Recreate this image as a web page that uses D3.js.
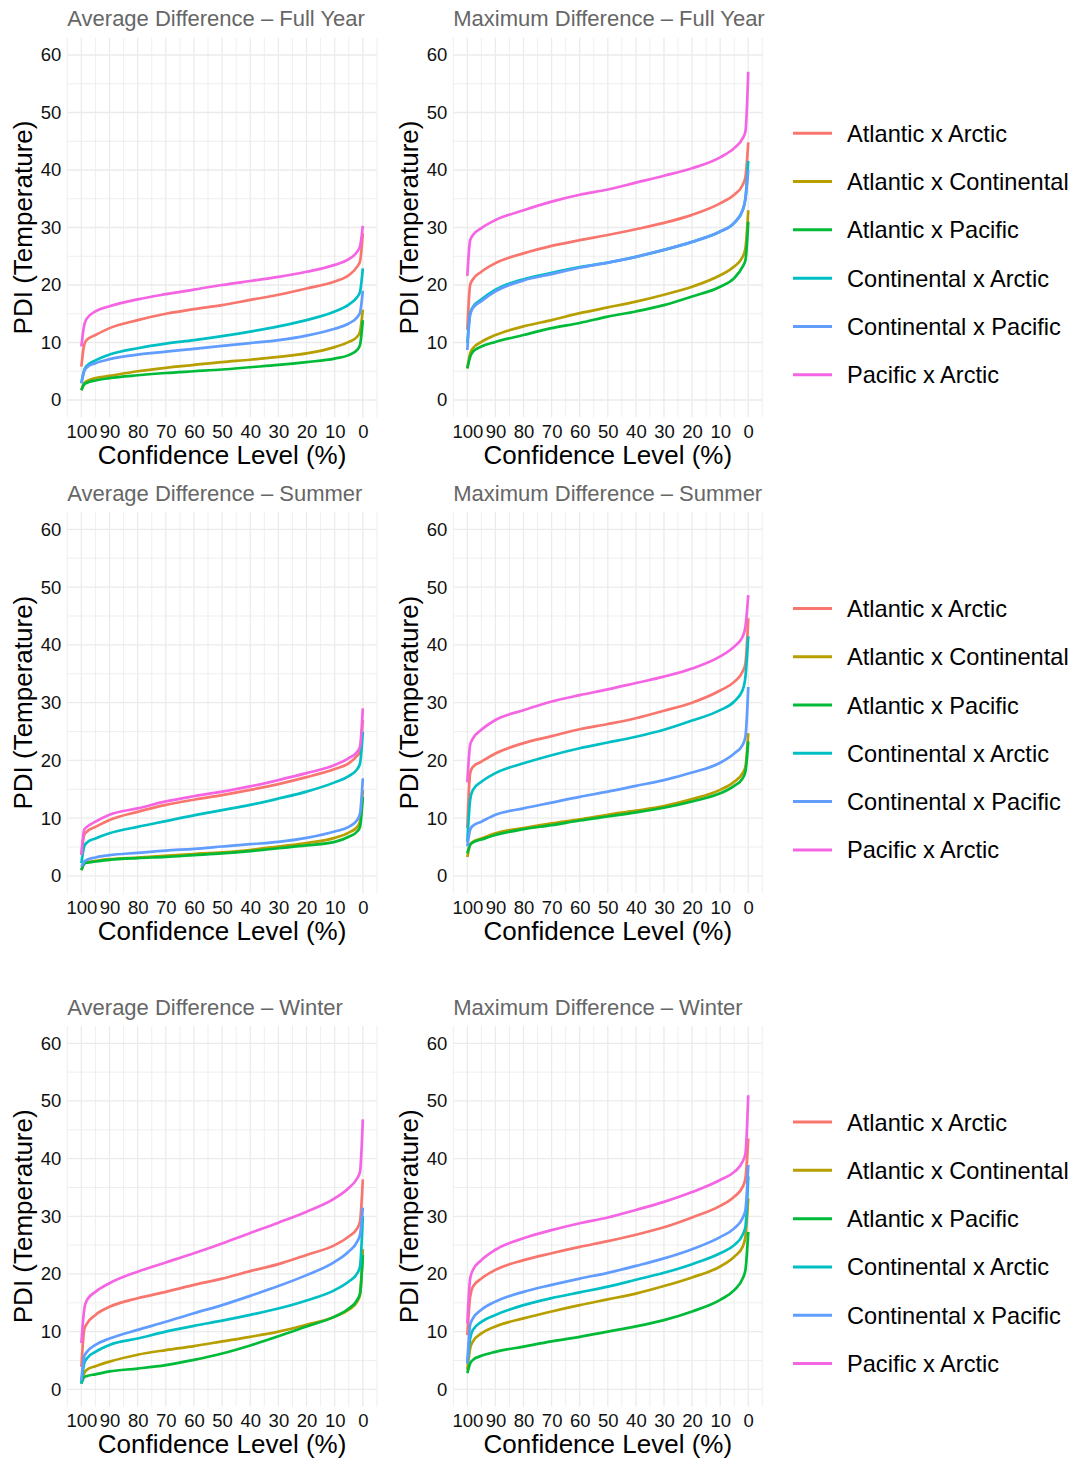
<!DOCTYPE html>
<html>
<head>
<meta charset="utf-8">
<script src="https://cdn.jsdelivr.net/npm/d3@7"></script>
<style>
  body { margin: 0; background: #fff; }
  svg text { font-family: "Liberation Sans", Arial, sans-serif; }
</style>
</head>
<body>
<script>
// === Data ===
const confLevels = [100, 99, 98, 95, 90, 80, 70, 60, 50, 40, 30, 20, 10, 5, 2, 1, 0];

const seriesNames = ["Atlantic x Arctic", "Atlantic x Continental", "Atlantic x Pacific",
                     "Continental x Arctic", "Continental x Pacific", "Pacific x Arctic"];
const seriesColors = ["#F8766D", "#B79F00", "#00BA38", "#00BFC4", "#619CFF", "#F564E3"];

const xTicks = [100, 90, 80, 70, 60, 50, 40, 30, 20, 10, 0];
const yTicks = [0, 10, 20, 30, 40, 50, 60];

const panelTitles = ["Average Difference \u2013 Full Year", "Maximum Difference \u2013 Full Year",
                     "Average Difference \u2013 Summer", "Maximum Difference \u2013 Summer",
                     "Average Difference \u2013 Winter", "Maximum Difference \u2013 Winter"];

// one row per series, same order as seriesNames
const avgFullYear = [
  [5.8, 9.6, 10.5, 11.3, 12.5, 13.9, 15.0, 15.8, 16.5, 17.4, 18.3, 19.4, 20.6, 21.7, 23.2, 24.1, 29.0],
  [1.7, 2.9, 3.3, 3.8, 4.2, 5.0, 5.6, 6.1, 6.6, 7.0, 7.5, 8.1, 9.2, 10.1, 11.0, 11.9, 15.7],
  [1.7, 2.7, 3.0, 3.4, 3.8, 4.3, 4.7, 5.0, 5.3, 5.7, 6.1, 6.6, 7.2, 7.8, 8.7, 9.6, 13.9],
  [2.9, 5.2, 6.0, 6.9, 7.9, 9.0, 9.8, 10.4, 11.1, 11.9, 12.8, 13.9, 15.4, 16.6, 17.9, 18.8, 22.9],
  [2.9, 5.0, 5.7, 6.4, 7.1, 7.9, 8.4, 8.9, 9.4, 9.9, 10.4, 11.2, 12.4, 13.3, 14.4, 15.2, 19.0],
  [9.3, 13.0, 14.2, 15.4, 16.3, 17.5, 18.4, 19.2, 20.0, 20.7, 21.4, 22.3, 23.5, 24.5, 25.8, 26.7, 30.3]
];
const maxFullYear = [
  [12.2, 20.0, 21.0, 22.3, 23.8, 25.5, 26.8, 27.8, 28.7, 29.7, 30.8, 32.2, 34.2, 35.7, 37.4, 38.8, 44.8],
  [5.5, 8.1, 9.0, 10.1, 11.3, 12.8, 13.9, 15.1, 16.1, 17.1, 18.3, 19.7, 21.7, 23.2, 24.9, 26.4, 33.0],
  [5.5, 7.5, 8.4, 9.3, 10.1, 11.3, 12.5, 13.4, 14.5, 15.4, 16.5, 18.0, 19.7, 21.2, 23.2, 24.3, 31.0],
  [9.9, 15.1, 16.2, 17.5, 19.2, 21.0, 22.1, 23.1, 23.9, 24.9, 26.1, 27.5, 29.3, 30.8, 33.0, 35.1, 41.6],
  [8.7, 14.8, 16.0, 17.2, 18.9, 20.8, 21.9, 23.0, 23.9, 24.9, 26.1, 27.5, 29.3, 30.8, 33.0, 35.0, 40.0],
  [21.6, 27.8, 28.7, 29.9, 31.3, 33.0, 34.5, 35.7, 36.6, 37.8, 39.0, 40.3, 42.2, 43.8, 45.5, 46.7, 57.1]
];
const avgSummer = [
  [3.6, 7.1, 7.7, 8.5, 9.7, 11.1, 12.3, 13.2, 14.0, 14.9, 15.9, 17.1, 18.5, 19.5, 20.8, 21.5, 27.0],
  [1.0, 2.2, 2.4, 2.6, 2.9, 3.2, 3.5, 3.8, 4.1, 4.5, 5.1, 5.7, 6.6, 7.5, 8.5, 9.4, 14.9],
  [1.0, 2.1, 2.3, 2.5, 2.8, 3.1, 3.3, 3.6, 3.9, 4.3, 4.8, 5.3, 5.9, 6.8, 7.7, 8.5, 13.7],
  [2.2, 5.1, 5.8, 6.5, 7.4, 8.5, 9.5, 10.5, 11.4, 12.3, 13.4, 14.6, 16.2, 17.3, 18.5, 19.5, 25.0],
  [1.6, 2.5, 2.8, 3.2, 3.6, 4.0, 4.4, 4.7, 5.1, 5.5, 5.9, 6.6, 7.7, 8.5, 9.7, 10.8, 16.9],
  [3.6, 8.0, 8.5, 9.4, 10.6, 11.7, 12.9, 13.8, 14.6, 15.5, 16.6, 17.8, 19.2, 20.4, 21.5, 22.4, 29.0]
];
const maxSummer = [
  [8.3, 17.8, 18.9, 19.8, 21.2, 23.0, 24.2, 25.4, 26.3, 27.3, 28.6, 30.0, 32.1, 33.6, 35.4, 36.8, 44.6],
  [3.3, 5.4, 5.9, 6.5, 7.4, 8.3, 9.1, 9.8, 10.6, 11.3, 12.1, 13.3, 14.9, 16.3, 17.8, 18.9, 24.7],
  [3.9, 5.4, 5.8, 6.3, 7.1, 8.1, 8.8, 9.6, 10.3, 11.0, 11.8, 12.9, 14.3, 15.6, 16.9, 18.1, 23.3],
  [5.9, 13.2, 14.9, 16.3, 17.8, 19.5, 20.9, 22.1, 23.1, 24.1, 25.3, 26.9, 28.7, 30.2, 32.2, 34.5, 41.5],
  [5.1, 8.0, 8.7, 9.4, 10.6, 11.7, 12.7, 13.7, 14.6, 15.6, 16.6, 17.9, 19.6, 21.2, 22.7, 24.1, 32.7],
  [16.2, 22.7, 23.8, 25.3, 27.0, 28.7, 30.2, 31.3, 32.3, 33.4, 34.5, 35.9, 38.0, 39.7, 41.4, 43.2, 48.6]
];
const avgWinter = [
  [3.9, 10.3, 11.4, 12.9, 14.3, 15.8, 16.9, 18.1, 19.2, 20.5, 21.7, 23.3, 25.0, 26.5, 27.9, 29.1, 36.4],
  [1.0, 2.8, 3.4, 4.0, 4.8, 6.0, 6.8, 7.5, 8.3, 9.1, 10.0, 11.2, 12.6, 13.8, 15.2, 16.4, 24.3],
  [1.0, 2.1, 2.3, 2.6, 3.1, 3.6, 4.2, 5.1, 6.2, 7.6, 9.2, 10.9, 12.6, 14.0, 15.5, 16.6, 23.3],
  [1.0, 4.5, 5.4, 6.5, 7.7, 8.8, 10.0, 11.0, 11.9, 12.9, 14.0, 15.4, 17.2, 18.7, 20.1, 21.3, 30.0],
  [1.6, 5.7, 6.5, 7.7, 8.8, 10.3, 11.7, 13.2, 14.6, 16.2, 17.9, 19.8, 22.1, 23.9, 25.6, 26.8, 31.5],
  [8.0, 13.8, 15.5, 16.9, 18.4, 20.4, 22.0, 23.6, 25.3, 27.1, 28.9, 30.8, 33.1, 34.9, 36.6, 37.7, 46.8]
];
const maxWinter = [
  [9.4, 16.1, 17.8, 19.2, 20.7, 22.4, 23.6, 24.7, 25.7, 26.8, 28.1, 29.8, 31.8, 33.4, 35.1, 36.6, 43.5],
  [3.4, 7.1, 8.3, 9.7, 10.9, 12.3, 13.5, 14.6, 15.6, 16.6, 17.9, 19.4, 21.3, 23.0, 24.7, 26.5, 33.1],
  [2.8, 4.5, 5.1, 5.8, 6.5, 7.4, 8.3, 9.1, 10.0, 10.9, 12.0, 13.5, 15.5, 17.2, 19.2, 20.7, 27.3],
  [4.5, 8.8, 10.3, 11.7, 12.9, 14.6, 15.8, 16.8, 17.8, 19.0, 20.2, 21.7, 23.6, 25.0, 26.8, 28.2, 36.9],
  [4.5, 11.2, 12.3, 13.8, 15.2, 16.9, 18.1, 19.2, 20.2, 21.4, 22.7, 24.3, 26.4, 27.9, 29.7, 31.1, 38.9],
  [11.4, 19.2, 20.7, 22.4, 24.2, 26.2, 27.6, 28.8, 29.8, 31.1, 32.5, 34.2, 36.3, 37.7, 39.5, 40.9, 51.0]
];

const panelValues = [avgFullYear, maxFullYear, avgSummer, maxSummer, avgWinter, maxWinter];

//=== Layout ===
const W = 1078, H = 1459;
const rows = [{ top: 37.75, bottom: 417.25 }, { top: 512, bottom: 893.3 }, { top: 1026, bottom: 1406.6 }];
const cols = [{ left: 67.3, right: 376.9 }, { left: 453.3, right: 762.3 }];
const font = "Liberation Sans, Arial, sans-serif";

const svg = d3.select("body").append("svg")
  .attr("width", W)
  .attr("height", H)
  .style("background", "#fff");

panelValues.forEach((vals, p) => {
  const r = rows[Math.floor(p / 2)], c = cols[p % 2];

  const x = d3.scaleLinear().domain([105, -5]).range([c.left, c.right]);
  const y = d3.scaleLinear().domain([-3, 63]).range([r.bottom, r.top]);

  const g = svg.append("g");

  // minor grid
  g.append("g").selectAll("line")
    .data(d3.range(-5, 106, 10))
    .join("line")
    .attr("x1", d => x(d)).attr("x2", d => x(d))
    .attr("y1", r.top).attr("y2", r.bottom)
    .attr("stroke", "#ebebeb").attr("stroke-width", 0.8);
  g.append("g").selectAll("line")
    .data(d3.range(5, 60, 10))
    .join("line")
    .attr("x1", c.left).attr("x2", c.right)
    .attr("y1", d => y(d)).attr("y2", d => y(d))
    .attr("stroke", "#ebebeb").attr("stroke-width", 0.8);

  // major grid
  g.append("g").selectAll("line")
    .data(xTicks)
    .join("line")
    .attr("x1", d => x(d)).attr("x2", d => x(d))
    .attr("y1", r.top).attr("y2", r.bottom)
    .attr("stroke", "#ebebeb").attr("stroke-width", 1.3);
  g.append("g").selectAll("line")
    .data(yTicks)
    .join("line")
    .attr("x1", c.left).attr("x2", c.right)
    .attr("y1", d => y(d)).attr("y2", d => y(d))
    .attr("stroke", "#ebebeb").attr("stroke-width", 1.3);

  // axes
  const ax = g.append("g")
    .attr("transform", "translate(0," + r.bottom + ")")
    .call(d3.axisBottom(x).tickValues(xTicks).tickSize(0).tickPadding(7.4));
  const ay = g.append("g")
    .attr("transform", "translate(" + c.left + ",0)")
    .call(d3.axisLeft(y).tickValues(yTicks).tickSize(0).tickPadding(6));
  [ax, ay].forEach(a => {
    a.attr("font-family", font).attr("font-size", 18.5);
    a.select(".domain").remove();
    a.selectAll("text").attr("fill", "#111");
  });

  // lines
  const line = d3.line()
    .x((d, i) => x(confLevels[i]))
    .y(d => y(d))
    .curve(d3.curveMonotoneX);

  g.append("g").selectAll("path")
    .data(vals)
    .join("path")
    .attr("d", d => line(d))
    .attr("fill", "none")
    .attr("stroke", (d, i) => seriesColors[i])
    .attr("stroke-width", 2.7)
    .attr("stroke-linejoin", "round");

  // panel title
  g.append("text")
    .attr("x", c.left)
    .attr("y", r.top - 11.5)
    .attr("font-size", 22)
    .attr("fill", "#666")
    .text(panelTitles[p]);

  // axis titles
  g.append("text")
    .attr("transform", "translate(" + (c.left - 35.5) + "," + ((r.top + r.bottom) / 2) + ") rotate(-90)")
    .attr("text-anchor", "middle")
    .attr("font-size", 26)
    .attr("fill", "#000")
    .text("PDI (Temperature)");
  g.append("text")
    .attr("x", (c.left + c.right) / 2)
    .attr("y", r.bottom + 46.5)
    .attr("text-anchor", "middle")
    .attr("font-size", 26)
    .attr("fill", "#000")
    .text("Confidence Level (%)");

  // legend, next to right column
  if (p % 2 === 1) {
    const mid = (r.top + r.bottom) / 2 + 26.5;
    const leg = g.append("g").selectAll("g")
      .data(seriesNames)
      .join("g")
      .attr("transform", (d, i) => "translate(0," + (mid + (i - 2.5) * 48.3) + ")");
    leg.append("line")
      .attr("x1", 793).attr("x2", 832)
      .attr("stroke", (d, i) => seriesColors[i])
      .attr("stroke-width", 3);
    leg.append("text")
      .attr("x", 847)
      .attr("dy", "0.36em")
      .attr("font-size", 23.6)
      .attr("fill", "#000")
      .text(d => d);
  }
});
</script>
</body>
</html>
